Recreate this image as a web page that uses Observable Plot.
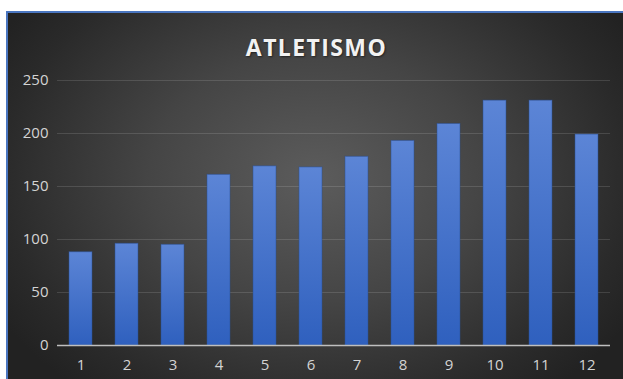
<!DOCTYPE html>
<html>
<head>
<meta charset="utf-8">
<script src="https://cdn.jsdelivr.net/npm/d3@7"></script>
<script src="https://cdn.jsdelivr.net/npm/@observablehq/plot@0.6"></script>
<style>
  html, body { margin: 0; padding: 0; background: #ffffff; width: 623px; height: 379px; overflow: hidden; }
  #frame {
    position: absolute; left: 6px; top: 11px; width: 617px; height: 368px;
    background: radial-gradient(ellipse 60% 75% at 50% 45%, #5c5c5c 0%, #454545 45%, #2a2a2a 85%, #222222 100%);
    border-left: 2px solid #4a76c0; border-top: 2px solid #4a76c0;
    box-sizing: border-box;
  }
  #title {
    position: absolute; left: 0; top: 18px; width: 617px; text-align: center; z-index: 2;
    font-family: "Open Sans", sans-serif; font-weight: 700; font-size: 23px;
    color: #f2f2f2; letter-spacing: 1.4px; text-shadow: 1px 1px 2px rgba(0,0,0,0.5);
  }
  #chart { position: absolute; left: -2px; top: 46px; z-index: 1; }
  #chart svg text { font-size: 15px !important; font-family: "Open Sans", sans-serif; }
</style>
</head>
<body>
<div id="frame">
  <div id="chart"></div>
  <div id="title">ATLETISMO</div>
</div>
<script>
const categories = ["1","2","3","4","5","6","7","8","9","10","11","12"];
const values = [88, 96, 95, 161, 169, 168, 178, 193, 209, 231, 231, 199];
const yTicks = [0, 50, 100, 150, 200, 250];

const data = categories.map((c, i) => ({cat: c, value: values[i]}));

const defs = () => {
  const d = d3.create("svg:defs");
  const g = d.append("linearGradient").attr("id", "barGrad")
    .attr("x1", 0).attr("y1", 0).attr("x2", 0).attr("y2", 1);
  g.append("stop").attr("offset", "0%").attr("stop-color", "#5c85d6");
  g.append("stop").attr("offset", "100%").attr("stop-color", "#2f60be");
  return d.node();
};

const chart = Plot.plot({
  width: 617,
  height: 322,
  marginLeft: 51,
  marginRight: 13,
  marginTop: 21,
  marginBottom: 36,
  style: { background: "transparent", fontSize: "15px", color: "#d0d0d0" },
  x: { domain: categories, paddingInner: 0.5, paddingOuter: 0.25, label: null, tickSize: 0 },
  y: { domain: [0, 250], ticks: yTicks, label: null, tickSize: 0 },
  marks: [
    defs,
    Plot.ruleY(yTicks.filter(t => t > 0), { stroke: "#ffffff", strokeOpacity: 0.13, strokeWidth: 1 }),
    Plot.barY(data, { x: "cat", y: "value", fill: "url(#barGrad)", stroke: "#2a4f95", strokeOpacity: 0.5, strokeWidth: 1 }),
    Plot.ruleY([0], { stroke: "#bfbfbf", strokeWidth: 1.5 }),
    Plot.axisX({ tickSize: 0, tickPadding: 14, fill: "#d4d4d4", fontSize: 15 }),
    Plot.axisY({ ticks: yTicks, tickSize: 0, tickPadding: 9, fill: "#d4d4d4", fontSize: 15 })
  ]
});
document.getElementById("chart").appendChild(chart);
</script>
</body>
</html>
